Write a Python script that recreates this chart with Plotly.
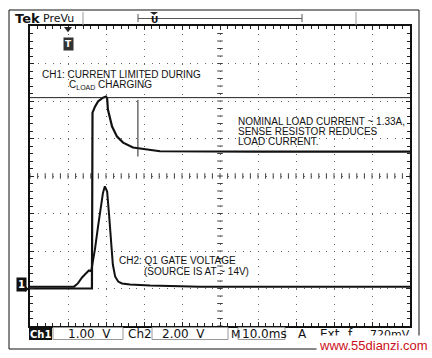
import numpy as np
import plotly.graph_objects as go

# ---------------- data (read from the screen) ----------------
# time in ms (10 ms/div, 10 divisions), voltages in volts relative to channel ground
ch1_t = [0, 16.3, 16.45, 17.1, 17.9, 19.2, 20.0, 20.3, 20.5, 21.6, 22.9, 24.5, 27.1, 30.8, 34.2, 60, 100]
ch1_v = [0, 0, 4.69, 4.85, 4.99, 5.09, 5.12, 5.07, 4.77, 4.32, 4.05, 3.89, 3.76, 3.71, 3.66, 3.65, 3.65]

ch2_t = [0, 11.6, 12.6, 13.7, 14.7, 15.5, 16.1, 17.1, 17.9, 18.7, 19.2, 19.7, 20.3, 20.8,
         21.3, 21.8, 22.4, 23.2, 24.2, 26.3, 31.6, 44.7, 100]
ch2_v = [0.1, 0.1, 0.27, 0.59, 0.8, 0.96, 0.92, 2.1, 3.3, 4.4, 5.1, 5.45, 5.17, 3.95,
         2.35, 1.28, 0.64, 0.37, 0.27, 0.21, 0.16, 0.1, 0.1]

CH1_VDIV = 1.00      # V/div
CH2_VDIV = 2.00      # V/div
CH1_POS = -3.0       # ground position (divisions)
CH2_POS = -3.0
TIME_DIV = 10.0      # ms/div
N_HDIV, N_VDIV = 10, 8

cursor_level_ch1 = 5.09   # horizontal cursor (ch1 volts)
cursor_time = 28.4        # vertical cursor (ms)
cursor_span_ch1 = [3.52, 5.03]
trigger_time = 10.0

status = ["Ch1", "1.00\u00a0\u00a0V", "Ch2", "2.00\u00a0\u00a0V", "M", "10.0ms", "A", "Ext", "\u0192", "720mV"]

# ---------------- helpers ----------------
L, R, T, B = 30, 410, 26, 326   # graticule pixel box
W, H = 432, 358


def PX(x):
    return (x - L) / (R - L)


def PY(y):
    return (B - y) / (B - T)


y1 = [CH1_POS + v / CH1_VDIV for v in ch1_v]
y2 = [CH2_POS + v / CH2_VDIV for v in ch2_v]
xmax = TIME_DIV * N_HDIV

fig = go.Figure()

# centre-line tick marks
xt = np.arange(0, xmax + 0.01, TIME_DIV / 5)
yt = np.arange(-N_VDIV / 2, N_VDIV / 2 + 0.01, 0.2)
fig.add_trace(go.Scatter(x=xt, y=np.zeros_like(xt), mode="markers", hoverinfo="skip",
                         marker=dict(symbol="line-ns", size=4, line=dict(width=1, color="#444"))))
fig.add_trace(go.Scatter(x=np.full_like(yt, xmax / 2), y=yt, mode="markers", hoverinfo="skip",
                         marker=dict(symbol="line-ew", size=4, line=dict(width=1, color="#444"))))

# traces
fig.add_trace(go.Scatter(x=ch2_t, y=y2, mode="lines", line=dict(color="#111", width=2), name="CH2"))
fig.add_trace(go.Scatter(x=ch1_t, y=y1, mode="lines", line=dict(color="#111", width=2.2), name="CH1"))

# trigger marker triangle at top edge
fig.add_trace(go.Scatter(x=[trigger_time], y=[N_VDIV / 2 - 0.07], mode="markers", cliponaxis=False,
                         hoverinfo="skip",
                         marker=dict(symbol="triangle-down", size=7, color="#222")))

shapes = []
# cursors
shapes.append(dict(type="line", xref="x", yref="y", x0=0, x1=xmax,
                   y0=CH1_POS + cursor_level_ch1 / CH1_VDIV, y1=CH1_POS + cursor_level_ch1 / CH1_VDIV,
                   line=dict(color="#222", width=1)))
shapes.append(dict(type="line", xref="x", yref="y", x0=cursor_time, x1=cursor_time,
                   y0=CH1_POS + cursor_span_ch1[0] / CH1_VDIV, y1=CH1_POS + cursor_span_ch1[1] / CH1_VDIV,
                   line=dict(color="#222", width=1)))
# outer frame
shapes.append(dict(type="rect", xref="paper", yref="paper", x0=PX(9), x1=PX(419), y0=PY(349), y1=PY(10),
                   line=dict(color="#111", width=1), layer="below"))
# header separators
for xx in (83, 356):
    shapes.append(dict(type="line", xref="paper", yref="paper", x0=PX(xx), x1=PX(xx), y0=PY(25), y1=PY(12),
                       line=dict(color="#999", width=1)))
# record bracket
shapes.append(dict(type="line", xref="paper", yref="paper", x0=PX(138), x1=PX(302), y0=PY(18.5), y1=PY(18.5),
                   line=dict(color="#555", width=1)))
for xx in (138, 302):
    shapes.append(dict(type="line", xref="paper", yref="paper", x0=PX(xx), x1=PX(xx), y0=PY(22), y1=PY(14),
                       line=dict(color="#555", width=1)))
# U marker
shapes.append(dict(type="path", xref="paper", yref="paper",
                   path=f"M{PX(150)},{PY(12)} L{PX(158)},{PY(12)} L{PX(154)},{PY(15)} Z",
                   fillcolor="#222", line=dict(width=0)))
# ch1 ground arrow
shapes.append(dict(type="path", xref="paper", yref="paper",
                   path=f"M{PX(25)},{PY(286)} L{PX(29)},{PY(289)} L{PX(25)},{PY(292)} Z",
                   fillcolor="#111", line=dict(width=0)))
# status bar: Ch1 inverse block and value boxes
shapes.append(dict(type="rect", xref="paper", yref="paper", x0=PX(29), x1=PX(52), y0=PY(340), y1=PY(327.5),
                   fillcolor="#111", line=dict(width=0)))
for (a, b) in ((53, 123), (152, 228), (238, 285)):
    shapes.append(dict(type="rect", xref="paper", yref="paper", x0=PX(a), x1=PX(b), y0=PY(339.5), y1=PY(327.5),
                       line=dict(color="#999", width=1)))

ann = []
txt_font = dict(family="Liberation Sans, Arial, sans-serif", size=10, color="#111")


def add_text(x, y, text, font=None, xanchor="left", **kw):
    ann.append(dict(x=PX(x), y=PY(y), xref="paper", yref="paper", text=text, showarrow=False,
                    xanchor=xanchor, yanchor="middle", font=font or txt_font, **kw))


add_text(40, 74, "CH1: CURRENT LIMITED DURING")
add_text(67, 85, "C<sub>LOAD</sub> CHARGING")
add_text(236, 121, "NOMINAL LOAD CURRENT ~ 1.33A,")
add_text(236, 131, "SENSE RESISTOR REDUCES")
add_text(236, 141, "LOAD CURRENT.")
add_text(117, 260, "CH2: Q1 GATE VOLTAGE")
add_text(142, 271, "(SOURCE IS AT ~ 14V)")

# header
add_text(13, 18, "<b>Tek</b>", font=dict(family="DejaVu Sans", size=13, color="#111"))
add_text(41, 18, "PreVu", font=dict(family="DejaVu Sans", size=11, color="#111"))
add_text(154, 20, "<b>U</b>", font=dict(family="DejaVu Sans", size=9, color="#111"), xanchor="center")

# trigger T marker
ann.append(dict(x=trigger_time, y=PY(37), xref="x", yref="paper", text="<b>T</b>", showarrow=False,
                font=dict(family="DejaVu Sans", size=9, color="white"), bgcolor="#333", borderpad=1))
# ch1 ground marker
add_text(21.5, 284, "<b>1</b>", font=dict(family="DejaVu Sans", size=10, color="white"),
         xanchor="center", bgcolor="#111", borderpad=1)

# status bar text
sb_font = dict(family="DejaVu Sans", size=12, color="#111")
add_text(40.5, 334, "<b>" + status[0] + "</b>", font=dict(family="DejaVu Sans", size=10, color="white"),
         xanchor="center")
add_text(66, 334, status[1], font=sb_font)
add_text(126, 334, status[2], font=sb_font)
add_text(160, 334, status[3], font=sb_font)
add_text(228.5, 334, status[4], font=dict(family="DejaVu Sans", size=11, color="#111"))
add_text(240, 334, status[5], font=sb_font)
add_text(296, 334, status[6], font=sb_font)
add_text(318, 334, status[7], font=sb_font)
add_text(345, 334, status[8], font=sb_font)
add_text(368, 334, status[9], font=dict(family="DejaVu Sans", size=11, color="#111"))

# watermark
add_text(316, 345, "www.55dianzi.com", font=dict(family="Liberation Sans, Arial", size=13, color="#cc1020"),
         bgcolor="white", borderpad=2)

axis_common = dict(showticklabels=False, zeroline=False, showline=True, linecolor="#111", linewidth=2,
                   mirror="allticks", ticks="inside", ticklen=4, tickcolor="#222", tickwidth=1,
                   showgrid=True, gridcolor="#666", gridwidth=1, fixedrange=True)

fig.update_layout(
    width=W, height=H,
    margin=dict(l=L, r=W - R, t=T, b=H - B, pad=0),
    paper_bgcolor="white", plot_bgcolor="white",
    showlegend=False,
    xaxis=dict(range=[0, xmax], dtick=TIME_DIV, tick0=0, griddash="1px,6.5px",
               minor=dict(dtick=TIME_DIV / 5, ticks="inside", ticklen=3, tickcolor="#222", showgrid=False),
               **axis_common),
    yaxis=dict(range=[-N_VDIV / 2, N_VDIV / 2], dtick=1, tick0=0, griddash="1px,6.6px",
               minor=dict(dtick=0.2, ticks="inside", ticklen=3, tickcolor="#222", showgrid=False),
               **axis_common),
    shapes=shapes,
    annotations=ann,
)

fig.write_html("out.html", config={"displayModeBar": False},
               post_script="document.body.style.margin='0';document.body.style.overflow='hidden';")
